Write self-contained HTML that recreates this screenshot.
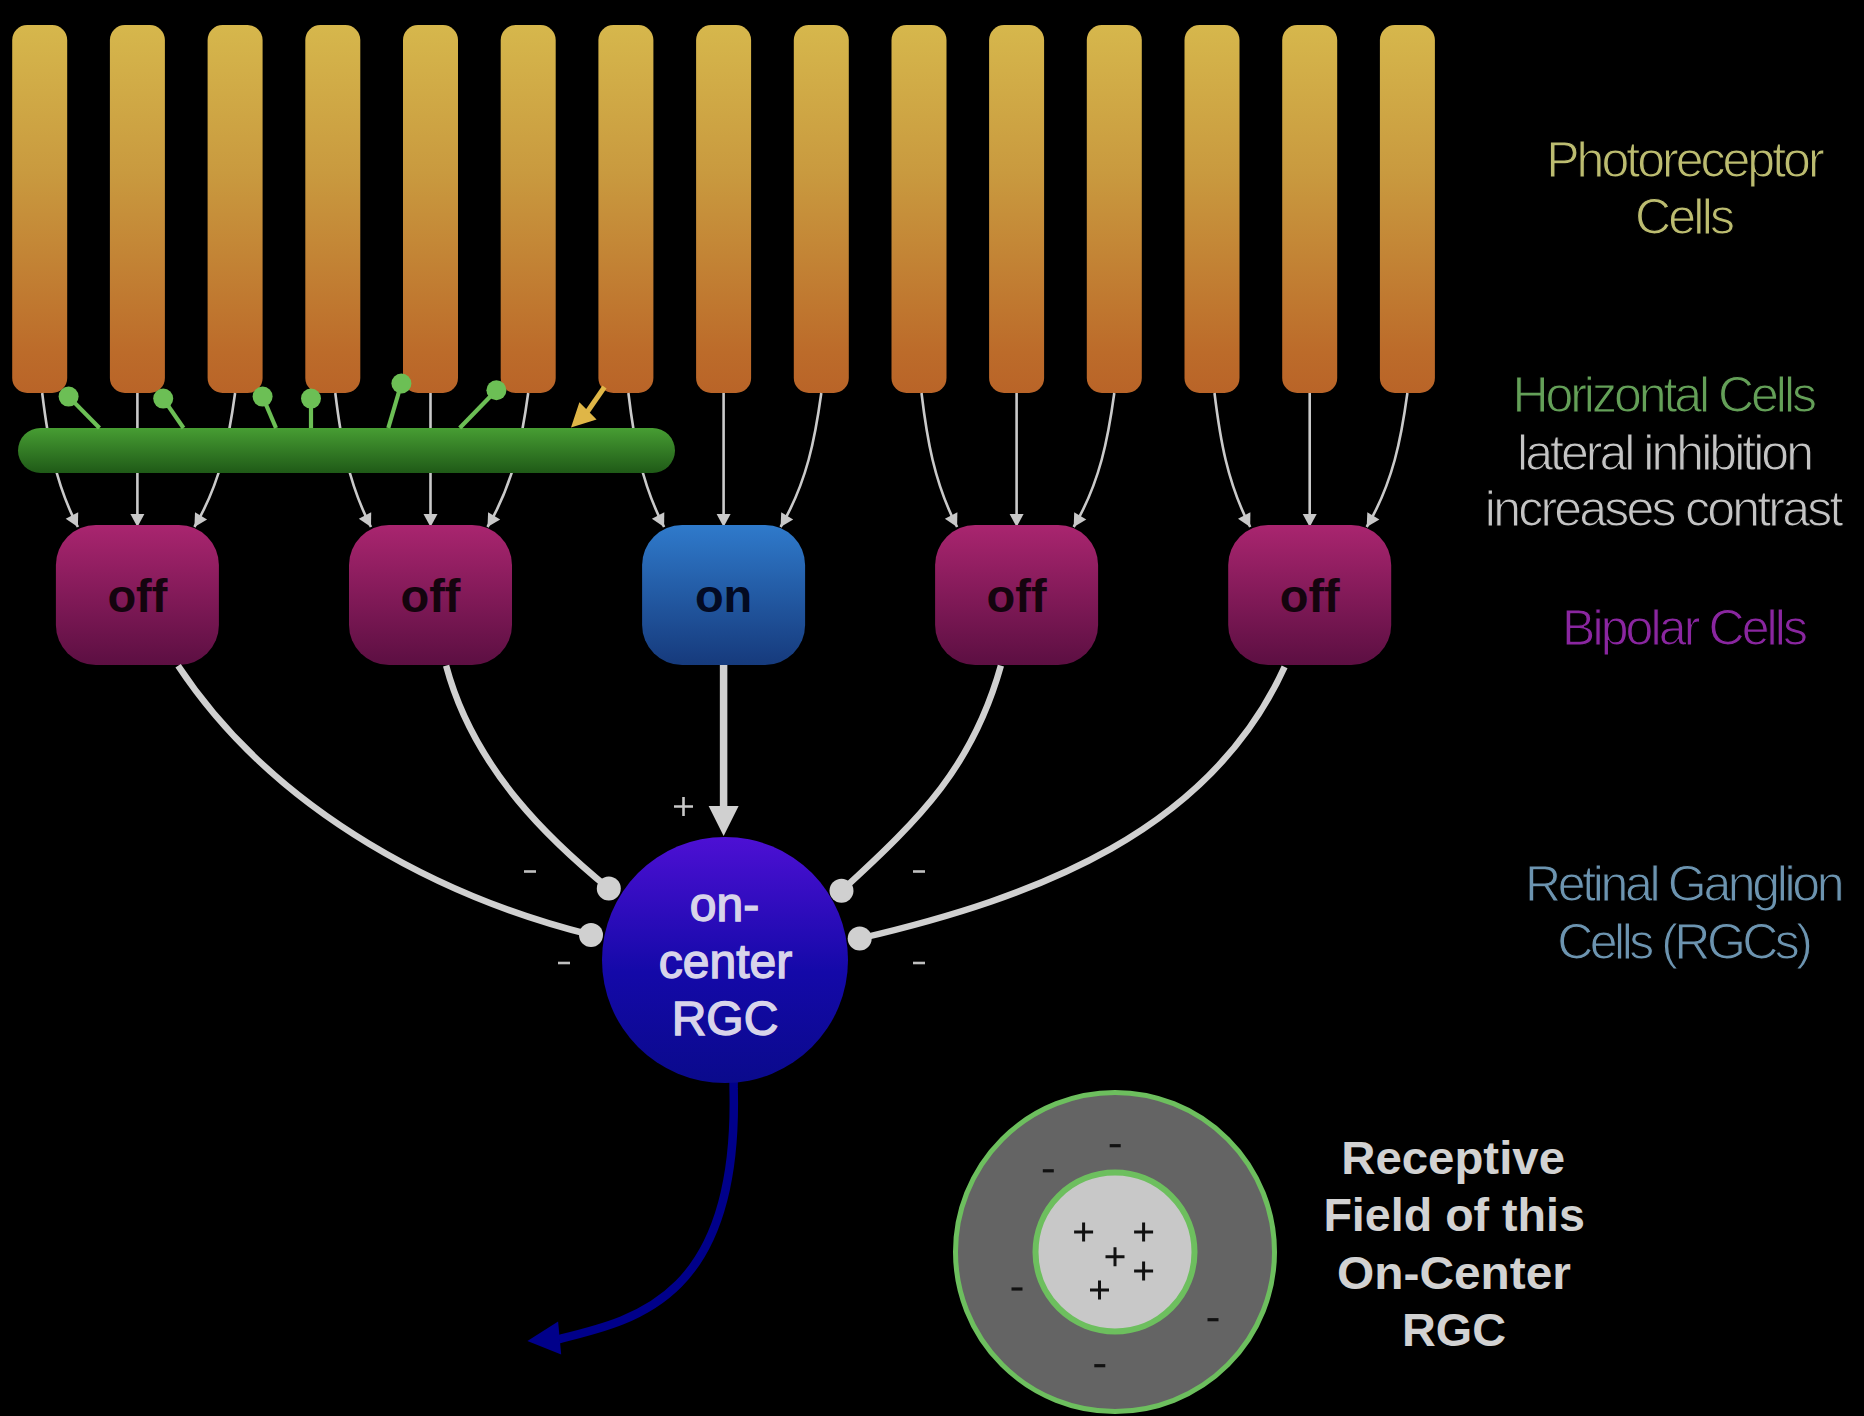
<!DOCTYPE html>
<html><head><meta charset="utf-8"><style>
html,body{margin:0;padding:0;background:#000;width:1864px;height:1416px;overflow:hidden}
svg{display:block}
text{font-family:"Liberation Sans",sans-serif}
</style></head><body>
<svg width="1864" height="1416" viewBox="0 0 1864 1416">
<defs>
<linearGradient id="gBar" x1="0" y1="0" x2="0" y2="1">
<stop offset="0" stop-color="#d6b74c"/><stop offset="0.4" stop-color="#c99a3f"/><stop offset="0.89" stop-color="#bc6b2a"/><stop offset="1" stop-color="#b96428"/></linearGradient>
<linearGradient id="gHor" x1="0" y1="0" x2="0" y2="1">
<stop offset="0" stop-color="#479d33"/><stop offset="1" stop-color="#1f5a17"/></linearGradient>
<linearGradient id="gOff" x1="0" y1="0" x2="0" y2="1">
<stop offset="0" stop-color="#a9256f"/><stop offset="1" stop-color="#5c0f42"/></linearGradient>
<linearGradient id="gOn" x1="0" y1="0" x2="0" y2="1">
<stop offset="0" stop-color="#2f7acb"/><stop offset="1" stop-color="#163a7c"/></linearGradient>
<linearGradient id="gRgc" x1="0" y1="0" x2="0" y2="1">
<stop offset="0" stop-color="#4d10d4"/><stop offset="0.55" stop-color="#1409a8"/><stop offset="1" stop-color="#0a0a8c"/></linearGradient>
</defs>
<rect width="1864" height="1416" fill="#000"/>

<rect x="12.2" y="25" width="55" height="368" rx="15" fill="url(#gBar)"/>
<rect x="109.9" y="25" width="55" height="368" rx="15" fill="url(#gBar)"/>
<rect x="207.6" y="25" width="55" height="368" rx="15" fill="url(#gBar)"/>
<rect x="305.3" y="25" width="55" height="368" rx="15" fill="url(#gBar)"/>
<rect x="403.0" y="25" width="55" height="368" rx="15" fill="url(#gBar)"/>
<rect x="500.7" y="25" width="55" height="368" rx="15" fill="url(#gBar)"/>
<rect x="598.4" y="25" width="55" height="368" rx="15" fill="url(#gBar)"/>
<rect x="696.1" y="25" width="55" height="368" rx="15" fill="url(#gBar)"/>
<rect x="793.8" y="25" width="55" height="368" rx="15" fill="url(#gBar)"/>
<rect x="891.5" y="25" width="55" height="368" rx="15" fill="url(#gBar)"/>
<rect x="989.1" y="25" width="55" height="368" rx="15" fill="url(#gBar)"/>
<rect x="1086.8" y="25" width="55" height="368" rx="15" fill="url(#gBar)"/>
<rect x="1184.5" y="25" width="55" height="368" rx="15" fill="url(#gBar)"/>
<rect x="1282.2" y="25" width="55" height="368" rx="15" fill="url(#gBar)"/>
<rect x="1379.9" y="25" width="55" height="368" rx="15" fill="url(#gBar)"/>
<path d="M42.2,393 C47.6,437.7 54.7,482.3 77.9,527" fill="none" stroke="#cacaca" stroke-width="2.6"/>
<path d="M77.9,527.0 L65.7,518.7 L78.2,512.2Z" fill="#c8c8c8"/>
<line x1="137.4" y1="393" x2="137.4" y2="517" stroke="#cacaca" stroke-width="2.6"/>
<path d="M137.4,527.0 L130.4,514.0 L144.4,514.0Z" fill="#c8c8c8"/>
<path d="M235.1,393 C229.0,437.7 220.9,482.3 194.4,527" fill="none" stroke="#cacaca" stroke-width="2.6"/>
<path d="M194.4,527.0 L195.0,512.2 L207.1,519.4Z" fill="#c8c8c8"/>
<path d="M335.3,393 C340.7,437.7 347.8,482.3 371.0,527" fill="none" stroke="#cacaca" stroke-width="2.6"/>
<path d="M371.0,527.0 L358.8,518.7 L371.2,512.2Z" fill="#c8c8c8"/>
<line x1="430.5" y1="393" x2="430.5" y2="517" stroke="#cacaca" stroke-width="2.6"/>
<path d="M430.5,527.0 L423.5,514.0 L437.5,514.0Z" fill="#c8c8c8"/>
<path d="M528.2,393 C522.1,437.7 514.0,482.3 487.5,527" fill="none" stroke="#cacaca" stroke-width="2.6"/>
<path d="M487.5,527.0 L488.1,512.2 L500.2,519.4Z" fill="#c8c8c8"/>
<path d="M628.4,393 C633.7,437.7 640.9,482.3 664.1,527" fill="none" stroke="#cacaca" stroke-width="2.6"/>
<path d="M664.1,527.0 L651.9,518.7 L664.3,512.2Z" fill="#c8c8c8"/>
<line x1="723.6" y1="393" x2="723.6" y2="517" stroke="#cacaca" stroke-width="2.6"/>
<path d="M723.6,527.0 L716.6,514.0 L730.6,514.0Z" fill="#c8c8c8"/>
<path d="M821.3,393 C815.2,437.7 807.0,482.3 780.6,527" fill="none" stroke="#cacaca" stroke-width="2.6"/>
<path d="M780.6,527.0 L781.2,512.2 L793.2,519.4Z" fill="#c8c8c8"/>
<path d="M921.5,393 C926.8,437.7 934.0,482.3 957.1,527" fill="none" stroke="#cacaca" stroke-width="2.6"/>
<path d="M957.1,527.0 L944.9,518.7 L957.4,512.2Z" fill="#c8c8c8"/>
<line x1="1016.6" y1="393" x2="1016.6" y2="517" stroke="#cacaca" stroke-width="2.6"/>
<path d="M1016.6,527.0 L1009.6,514.0 L1023.6,514.0Z" fill="#c8c8c8"/>
<path d="M1114.3,393 C1108.2,437.7 1100.1,482.3 1073.7,527" fill="none" stroke="#cacaca" stroke-width="2.6"/>
<path d="M1073.7,527.0 L1074.2,512.2 L1086.3,519.4Z" fill="#c8c8c8"/>
<path d="M1214.5,393 C1219.9,437.7 1227.0,482.3 1250.2,527" fill="none" stroke="#cacaca" stroke-width="2.6"/>
<path d="M1250.2,527.0 L1238.0,518.7 L1250.4,512.2Z" fill="#c8c8c8"/>
<line x1="1309.7" y1="393" x2="1309.7" y2="517" stroke="#cacaca" stroke-width="2.6"/>
<path d="M1309.7,527.0 L1302.7,514.0 L1316.7,514.0Z" fill="#c8c8c8"/>
<path d="M1407.4,393 C1401.3,437.7 1393.2,482.3 1366.7,527" fill="none" stroke="#cacaca" stroke-width="2.6"/>
<path d="M1366.7,527.0 L1367.3,512.2 L1379.4,519.4Z" fill="#c8c8c8"/>
<rect x="18" y="428" width="657" height="45" rx="22.5" fill="url(#gHor)"/>
<line x1="68.6" y1="396.6" x2="99.5" y2="428" stroke="#6cbf55" stroke-width="4.2"/>
<circle cx="68.6" cy="396.6" r="10" fill="#6cbf55"/>
<line x1="163.2" y1="398.6" x2="183.5" y2="428" stroke="#6cbf55" stroke-width="4.2"/>
<circle cx="163.2" cy="398.6" r="10" fill="#6cbf55"/>
<line x1="262.6" y1="396.6" x2="276" y2="428" stroke="#6cbf55" stroke-width="4.2"/>
<circle cx="262.6" cy="396.6" r="10" fill="#6cbf55"/>
<line x1="311" y1="398.6" x2="311" y2="428" stroke="#6cbf55" stroke-width="4.2"/>
<circle cx="311" cy="398.6" r="10" fill="#6cbf55"/>
<line x1="401.4" y1="383.5" x2="388.3" y2="428" stroke="#6cbf55" stroke-width="4.2"/>
<circle cx="401.4" cy="383.5" r="10" fill="#6cbf55"/>
<line x1="496.4" y1="390.2" x2="459.7" y2="428" stroke="#6cbf55" stroke-width="4.2"/>
<circle cx="496.4" cy="390.2" r="10" fill="#6cbf55"/>
<line x1="604.5" y1="387" x2="586.5" y2="413" stroke="#dfb647" stroke-width="5"/>
<path d="M571,427.5 L579.4,402.2 L596.6,419.4Z" fill="#dfb647"/>
<rect x="55.9" y="525" width="163" height="140" rx="40" fill="url(#gOff)"/>
<text x="137.4" y="612" font-size="47" font-weight="bold" text-anchor="middle" fill="#14040e">off</text>
<rect x="349.0" y="525" width="163" height="140" rx="40" fill="url(#gOff)"/>
<text x="430.5" y="612" font-size="47" font-weight="bold" text-anchor="middle" fill="#14040e">off</text>
<rect x="642.1" y="525" width="163" height="140" rx="40" fill="url(#gOn)"/>
<text x="723.6" y="612" font-size="47" font-weight="bold" text-anchor="middle" fill="#030a22">on</text>
<rect x="935.1" y="525" width="163" height="140" rx="40" fill="url(#gOff)"/>
<text x="1016.6" y="612" font-size="47" font-weight="bold" text-anchor="middle" fill="#14040e">off</text>
<rect x="1228.2" y="525" width="163" height="140" rx="40" fill="url(#gOff)"/>
<text x="1309.7" y="612" font-size="47" font-weight="bold" text-anchor="middle" fill="#14040e">off</text>
<path d="M178.1,665.7 C278.2,816.6 449.5,899.8 591.0,934.9" fill="none" stroke="#d0d0d0" stroke-width="6.4"/>
<path d="M446.1,665.7 C474.6,772.3 555.2,844.6 608.8,888.5" fill="none" stroke="#d0d0d0" stroke-width="6.4"/>
<path d="M1000.9,665.7 C972.7,765.9 922.4,816.8 841.5,890.8" fill="none" stroke="#d0d0d0" stroke-width="6.4"/>
<path d="M1284.6,666.9 C1209.6,831.6 1037.6,896.9 859.7,938.5" fill="none" stroke="#d0d0d0" stroke-width="6.4"/>
<line x1="723.6" y1="665" x2="723.6" y2="810" stroke="#d0d0d0" stroke-width="7.5"/>
<path d="M708.6,806 L738.6,806 L723.6,836Z" fill="#d0d0d0"/>
<path d="M733.6,1080 L733.6,1088.2 C739.1,1297.5 636.7,1320.0 559.1,1339.0" fill="none" stroke="#00008a" stroke-width="8.5"/>
<path d="M527.4,1341 L558.1,1321.6 L561.2,1354.4Z" fill="#00008a"/>
<circle cx="725" cy="960" r="123" fill="url(#gRgc)"/>
<circle cx="591.0" cy="934.9" r="12" fill="#d0d0d0"/>
<circle cx="608.8" cy="888.5" r="12" fill="#d0d0d0"/>
<circle cx="841.5" cy="890.8" r="12" fill="#d0d0d0"/>
<circle cx="859.7" cy="938.5" r="12" fill="#d0d0d0"/>
<text x="725" font-size="48" text-anchor="middle" fill="#d8d4ea" stroke="#d8d4ea" stroke-width="1.4"><tspan x="724.5" y="921">on-</tspan><tspan x="725.5" y="978">center</tspan><tspan x="725" y="1035">RGC</tspan></text>
<path d="M674,806.5 H693 M683.5,797 V816" stroke="#c8c8c8" stroke-width="2.6"/>
<line x1="524" y1="871.5" x2="536" y2="871.5" stroke="#c0c0c0" stroke-width="2.6"/>
<line x1="558" y1="963" x2="570" y2="963" stroke="#c0c0c0" stroke-width="2.6"/>
<line x1="913" y1="871.5" x2="925" y2="871.5" stroke="#c0c0c0" stroke-width="2.6"/>
<line x1="913" y1="963" x2="925" y2="963" stroke="#c0c0c0" stroke-width="2.6"/>
<circle cx="1115" cy="1252" r="159.5" fill="#646464" stroke="#6dbf5e" stroke-width="5"/>
<circle cx="1115" cy="1252" r="79.5" fill="#c8c8c8" stroke="#6dbf5e" stroke-width="6"/>
<path d="M1074.1,1231.9 H1093.1 M1083.6,1222.4 V1241.4" stroke="#111" stroke-width="3"/>
<path d="M1134.1,1231.9 H1153.1 M1143.6,1222.4 V1241.4" stroke="#111" stroke-width="3"/>
<path d="M1105.5,1256.8 H1124.5 M1115,1247.3 V1266.3" stroke="#111" stroke-width="3"/>
<path d="M1134.1,1271 H1153.1 M1143.6,1261.5 V1280.5" stroke="#111" stroke-width="3"/>
<path d="M1090.0,1290 H1109.0 M1099.5,1280.5 V1299.5" stroke="#111" stroke-width="3"/>
<line x1="1109.7" y1="1145.7" x2="1120.7" y2="1145.7" stroke="#111" stroke-width="3.2"/>
<line x1="1042.8" y1="1170.8" x2="1053.8" y2="1170.8" stroke="#111" stroke-width="3.2"/>
<line x1="1011.5" y1="1289" x2="1022.5" y2="1289" stroke="#111" stroke-width="3.2"/>
<line x1="1207.5" y1="1319.7" x2="1218.5" y2="1319.7" stroke="#111" stroke-width="3.2"/>
<line x1="1094.3" y1="1365.7" x2="1105.3" y2="1365.7" stroke="#111" stroke-width="3.2"/>
<text x="1546.20" y="177" font-size="50" font-weight="normal" fill="#bcbc70" textLength="278.40" lengthAdjust="spacing" stroke="#000" stroke-width="1.1">Photoreceptor</text>
<text x="1635.00" y="234" font-size="50" font-weight="normal" fill="#bcbc70" textLength="100.00" lengthAdjust="spacing" stroke="#000" stroke-width="1.1">Cells</text>
<text x="1512.40" y="412" font-size="50" font-weight="normal" fill="#64a058" textLength="304.60" lengthAdjust="spacing" stroke="#000" stroke-width="1.1">Horizontal Cells</text>
<text x="1517.00" y="469.6" font-size="50" font-weight="normal" fill="#c4c4c4" textLength="297.00" lengthAdjust="spacing" stroke="#000" stroke-width="1.1">lateral inhibition</text>
<text x="1484.80" y="526.4" font-size="50" font-weight="normal" fill="#c4c4c4" textLength="358.60" lengthAdjust="spacing" stroke="#000" stroke-width="1.1">increases contrast</text>
<text x="1562.00" y="644.8" font-size="50" font-weight="normal" fill="#8a26a0" textLength="246.00" lengthAdjust="spacing" stroke="#000" stroke-width="1.1">Bipolar Cells</text>
<text x="1525.00" y="901.3" font-size="50" font-weight="normal" fill="#6c94b0" textLength="319.60" lengthAdjust="spacing" stroke="#000" stroke-width="1.1">Retinal Ganglion</text>
<text x="1557.20" y="959.2" font-size="50" font-weight="normal" fill="#6c94b0" textLength="255.80" lengthAdjust="spacing" stroke="#000" stroke-width="1.1">Cells (RGCs)</text>
<text x="1341.20" y="1173.9" font-size="46" font-weight="bold" fill="#d2d2d2" textLength="223.80" lengthAdjust="spacingAndGlyphs">Receptive</text>
<text x="1323.40" y="1231.3" font-size="46" font-weight="bold" fill="#d2d2d2" textLength="261.60" lengthAdjust="spacingAndGlyphs">Field of this</text>
<text x="1337.00" y="1288.6" font-size="46" font-weight="bold" fill="#d2d2d2" textLength="234.00" lengthAdjust="spacingAndGlyphs">On-Center</text>
<text x="1402.00" y="1346" font-size="46" font-weight="bold" fill="#d2d2d2" textLength="104.00" lengthAdjust="spacingAndGlyphs">RGC</text>
</svg></body></html>
